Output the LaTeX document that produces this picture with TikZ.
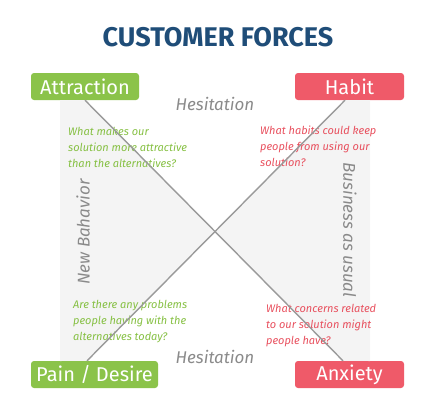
\documentclass[tikz,border=0pt]{standalone}
\usepackage{fontspec}
\setmainfont{Fira Sans}
\usetikzlibrary{calc}
\definecolor{grn}{HTML}{8BC34A}
\definecolor{rd}{HTML}{EF5A69}
\definecolor{ttl}{HTML}{1F4D78}
\definecolor{panel}{HTML}{F4F4F4}
\definecolor{lbl}{HTML}{8A8A8A}
\definecolor{lnc}{HTML}{9A9A9A}
\definecolor{qgrn}{HTML}{86C043}
\definecolor{qrd}{HTML}{E8505E}
\begin{document}
\begin{tikzpicture}[x=1pt,y=-1pt,
  forcebox/.style={fill=#1, text=white, rounded corners=3pt, minimum height=27pt, inner sep=0pt, font=\fontsize{20}{22}\selectfont},
  question/.style={anchor=north west, align=left, inner sep=0pt, font=\fontsize{11}{16}\selectfont\itshape},
  side/.style={text=lbl, inner sep=0pt, font=\fontsize{17}{19}\selectfont\itshape},
  force/.style={draw=lnc, line width=1.4pt}]
\useasboundingbox (0,0) rectangle (435,408);
\node[text=ttl, font=\fontsize{27}{30}\selectfont\bfseries] (title) at (218,37) {CUSTOMER FORCES};
\node[forcebox=grn, minimum width=108pt] (attr) at (85,86.5) {Attraction};
\node[forcebox=rd, minimum width=109pt] (habit) at (349.5,86.5) {Habit};
\node[forcebox=grn, minimum width=127pt] (pain) at (94.5,374.5) {Pain / Desire};
\node[forcebox=rd, minimum width=109pt] (anx) at (349.5,374.5) {Anxiety};
\coordinate (a1) at (attr.south);
\coordinate (a2) at ([xshift=-6.5pt]anx.north);
\coordinate (b1) at ([xshift=-7.5pt]pain.north);
\coordinate (b2) at ([xshift=-4.5pt]habit.south);
\coordinate (x) at (intersection of a1--a2 and b1--b2);
\fill[panel] (60,100) -- (a1) -- (x) -- (b1) -- (60,361) -- cycle;
\fill[panel] (370,100) -- (b2) -- (x) -- (a2) -- (370,361) -- cycle;
\node[side] (hes1) at (215,104) {Hesitation};
\node[side] (hes2) at (215,356.5) {Hesitation};
\node[side, rotate=90] (newb) at (83,232) {New Bahavior};
\node[side, rotate=-90] (bau) at (350,230) {Business as usual};
\node[question, text=qgrn] (q1) at (68,127.5) {What makes our\\solution more attractive\\than the alternatives?};
\node[question, text=qrd] (q2) at (260,125.5) {What habits could keep\\people from using our\\solution?};
\node[question, text=qgrn] (q3) at (73,300.5) {Are there any problems\\people having with the\\alternatives today?};
\node[question, text=qrd] (q4) at (266,304.5) {What concerns related\\to our solution might\\people have?};
\draw[force] (a1) -- (a2);
\draw[force] (b1) -- (b2);
\end{tikzpicture}
\end{document}
